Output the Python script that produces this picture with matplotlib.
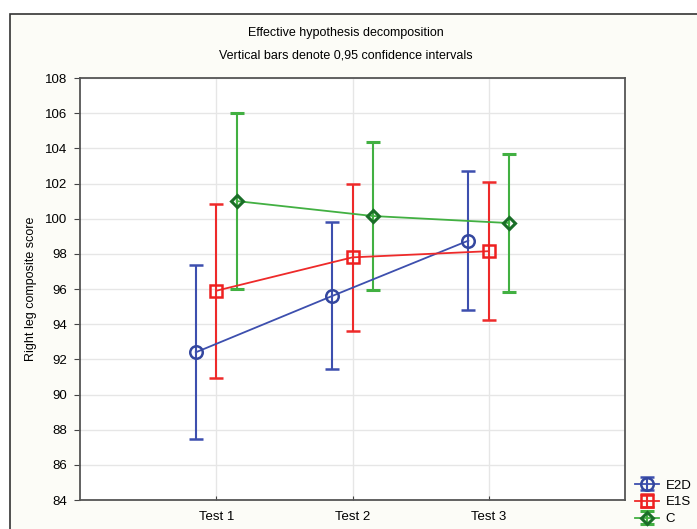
import numpy as np
import matplotlib
matplotlib.use('Agg')
import matplotlib.pyplot as plt
from matplotlib.patches import Rectangle

plt.rcParams['font.family'] = ['Liberation Sans', 'DejaVu Sans']

# datos
tests = ['Test 1', 'Test 2', 'Test 3']
grupos = ['E2D', 'E1S', 'C']

e2d_media = [92.4, 95.6, 98.75]
e2d_sup = [97.35, 99.8, 102.7]
e2d_inf = [87.45, 91.45, 94.8]

e1s_media = [95.9, 97.8, 98.15]
e1s_sup = [100.85, 101.95, 102.1]
e1s_inf = [90.95, 93.6, 94.25]

c_media = [101.0, 100.15, 99.75]
c_sup = [106.0, 104.35, 103.7]
c_inf = [96.0, 95.95, 95.85]

yticks = np.arange(84, 109, 2)

fig = plt.figure(figsize=(6.97, 5.29), dpi=100, facecolor='white')

# marco exterior del grafico
marco = Rectangle((10 / 697, -0.05), 1.0, 1 - 14 / 529 + 0.05,
                  transform=fig.transFigure, facecolor='#fcfcf7',
                  edgecolor='#333333', linewidth=1.2, zorder=-10)
fig.add_artist(marco)

ax = fig.add_axes([80 / 697, 1 - 500 / 529, 545 / 697, 422 / 529])
ax.set_facecolor('white')

x = np.arange(1, len(tests) + 1)
desp = 0.15
estilos = [
    ('E2D', e2d_media, e2d_sup, e2d_inf, '#3d4fae', '#34479f', 'o', 9, 1.8, -desp),
    ('E1S', e1s_media, e1s_sup, e1s_inf, '#ee2a2a', '#ee2020', 's', 9, 1.8, 0.0),
    ('C', c_media, c_sup, c_inf, '#42b042', '#1a6e28', 'D', 6.5, 2.2, desp),
]

for nombre, media, sup, inf, color, borde, marca, tam, grosor, dx in estilos:
    media = np.array(media)
    err = [media - np.array(inf), np.array(sup) - media]
    ax.errorbar(x + dx, media, yerr=err, color=color, marker=marca,
                markersize=tam, markerfacecolor='none', markeredgecolor=borde,
                markeredgewidth=grosor, linewidth=1.3, elinewidth=1.5,
                capsize=5, capthick=1.5, label=nombre, zorder=3)

ax.set_xlim(0, 4)
ax.set_ylim(84, 108)
ax.set_xticks(x)
ax.set_xticklabels(tests, fontsize=9.5)
ax.set_yticks(yticks)
ax.set_yticklabels([str(v) for v in yticks], fontsize=9.5)
ax.tick_params(axis='x', direction='in', length=3, color='#444444', pad=8)
ax.tick_params(axis='y', direction='out', length=4, color='#444444', pad=5)
ax.grid(True, color='#e6e6e6', linewidth=1.0, zorder=0)
ax.set_axisbelow(True)
for s in ax.spines.values():
    s.set_color('#555555')
    s.set_linewidth(1.3)

ax.set_ylabel('Right leg composite score', fontsize=9, labelpad=6)

fig.text(346 / 697, 1 - 33 / 529, 'Effective hypothesis decomposition',
         ha='center', va='center', fontsize=9)
fig.text(346 / 697, 1 - 55 / 529, 'Vertical bars denote 0,95 confidence intervals',
         ha='center', va='center', fontsize=9)

fig.legend(loc='upper left', bbox_to_anchor=(630 / 697, 1 - 474 / 529),
           frameon=False, fontsize=9.5, handlelength=1.8, handletextpad=0.5,
           labelspacing=0.35, borderaxespad=0)

fig.savefig('out.png', dpi=100, facecolor=fig.get_facecolor())
